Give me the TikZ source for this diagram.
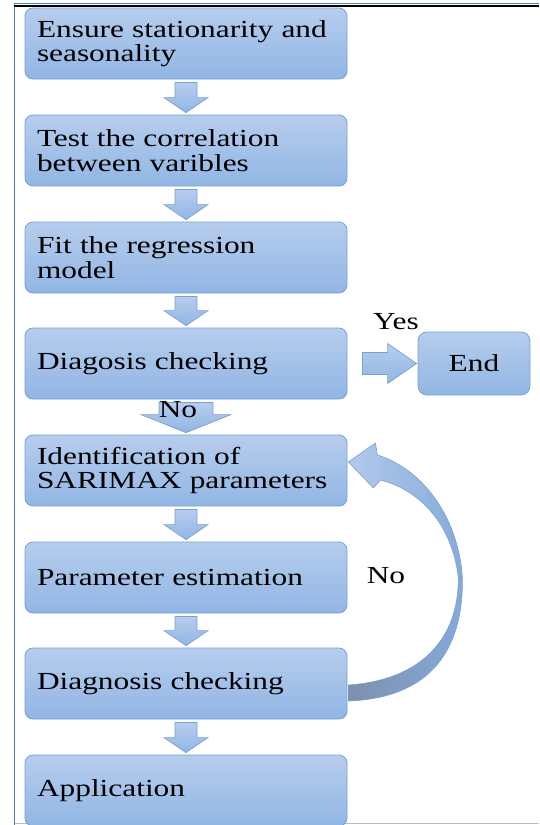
\documentclass[tikz,border=0pt]{standalone}
\usepackage{fontspec}
\setmainfont{Liberation Serif}[FakeStretch=1.28]
\usetikzlibrary{calc}
\definecolor{boxtop}{RGB}{182,205,237}
\definecolor{boxbot}{RGB}{145,182,228}
\definecolor{boxline}{RGB}{120,160,214}
\definecolor{frameblue}{RGB}{79,129,189}
\definecolor{framegrey}{RGB}{190,190,190}
\definecolor{curvelight}{RGB}{178,202,236}
\definecolor{curvemid}{RGB}{135,170,218}
\definecolor{curvedark}{RGB}{124,144,172}
\newcommand\dnarrow[5]{%
  \path[blockarrow] let \p1=(#1.south), \p2=(#2.north) in
    (\x1-#3pt,\y1-3pt) -- (\x1+#3pt,\y1-3pt) -- (\x1+#3pt,\y2+2pt+#5pt) --
    (\x1+#4pt,\y2+2pt+#5pt) -- (\x1,\y2+2pt) -- (\x1-#4pt,\y2+2pt+#5pt) --
    (\x1-#3pt,\y2+2pt+#5pt) -- cycle;}
\begin{document}
\begin{tikzpicture}[x=1pt,y=-1pt,
  txt/.style={font=\fontsize{24.5}{24.5}\selectfont},
  stepbox/.style={txt, draw=boxline, line width=0.8pt, rounded corners=8pt,
    top color=boxtop, bottom color=boxbot, minimum width=322pt,
    minimum height=71pt, text width=298pt, inner xsep=12pt, align=left},
  endbox/.style={txt, draw=boxline, line width=0.8pt, rounded corners=9pt,
    top color=boxtop, bottom color=boxbot, minimum width=112pt,
    minimum height=63pt, align=center},
  blockarrow/.style={draw=boxline, line width=0.7pt, top color=boxtop, bottom color=boxbot},
  lbl/.style={txt, inner sep=0pt}]
\useasboundingbox (0,0) rectangle (539,825);
% frame
\draw[frameblue, line width=1.2pt] (14.5,3.5) -- (14.5,825);
\draw[frameblue, line width=1pt] (14,3.5) -- (539,3.5);
\draw[black, line width=1.6pt] (14,5.8) -- (539,5.8);
\draw[framegrey, line width=1pt] (15,823) -- (539,823);
% boxes
\node[stepbox] (b1) at (186,43.5) {Ensure stationarity and\\seasonality};
\node[stepbox] (b2) at (186,150.5) {Test the correlation\\between varibles};
\node[stepbox] (b3) at (186,257.5) {Fit the regression\\model};
\node[stepbox] (b4) at (186,363.5) {Diagosis checking};
\node[stepbox] (b5) at (186,470.5) {Identification of\\SARIMAX parameters};
\node[stepbox] (b6) at (186,577.5) {Parameter estimation};
\node[stepbox] (b7) at (186,683.5) {Diagnosis checking};
\node[stepbox] (b8) at (186,790.5) {Application};
\node[endbox] (end) at (474,363.5) {End};
% down arrows
\dnarrow{b1}{b2}{11}{22}{15}
\dnarrow{b2}{b3}{11}{22}{15}
\dnarrow{b3}{b4}{11}{22}{15}
\dnarrow{b4}{b5}{27}{45}{18}
\dnarrow{b5}{b6}{11}{22}{15}
\dnarrow{b6}{b7}{11}{22}{15}
\dnarrow{b7}{b8}{11}{22}{15}
% right arrow to End
\path[blockarrow] let \p1=(b4.east), \p2=(end.west) in
  (\x1+15pt,\y1+11pt) -- (\x2-30pt,\y1+11pt) -- (\x2-30pt,\y1+20pt) --
  (\x2-1pt,\y1) -- (\x2-30pt,\y1-20pt) -- (\x2-30pt,\y1-11pt) --
  (\x1+15pt,\y1-11pt) -- cycle;
% curved return arrow from b7 to b5
\begin{scope}[shift={(b5.east)}, xshift=-347pt, yshift=470.5pt]
\path[draw=boxline, line width=0.6pt, left color=curvedark, right color=curvemid]
  (458,578) .. controls (458,640) and (420,680) .. (348,685) --
  (348,701) .. controls (430,698) and (463,650) .. (462,578) -- cycle;
\path[draw=boxline, line width=0.6pt, left color=curvelight, right color=curvemid]
  (348,462) -- (375,443) -- (377,455) .. controls (420,468) and (458,515) .. (462,578) --
  (458,578) .. controls (452,525) and (420,490) .. (380,480) -- (373,488) -- cycle;
\end{scope}
% labels
\node[lbl] (yes) at (396,322) {Yes};
\node[lbl] (no1) at (178,410) {No};
\node[lbl] (no2) at (386,576) {No};
\end{tikzpicture}
\end{document}
